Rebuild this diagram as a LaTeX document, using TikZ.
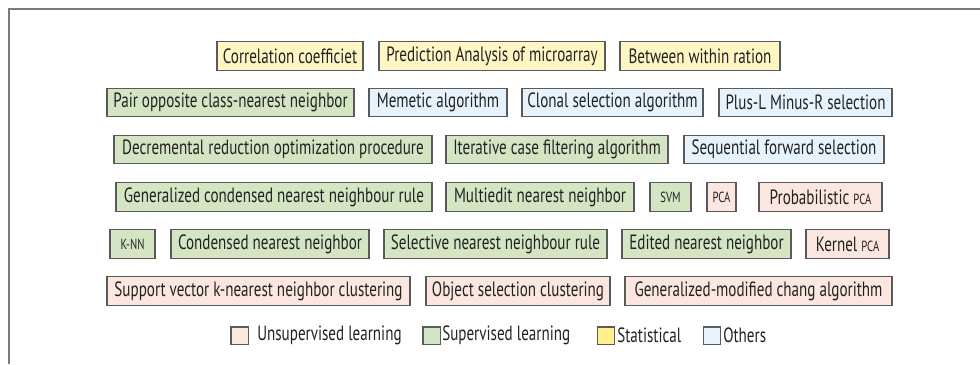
\documentclass[tikz,border=0pt]{standalone}
\usepackage{fontspec}
\setmainfont{PT Sans}[FakeStretch=0.73]
\definecolor{ylw}{HTML}{FFF6C4}
\definecolor{ylwleg}{HTML}{FFF08C}
\definecolor{grn}{HTML}{D4E5C4}
\definecolor{blu}{HTML}{E6F3FC}
\definecolor{pnk}{HTML}{FBE7DF}
\definecolor{bord}{HTML}{5A5A5A}
\definecolor{txt}{HTML}{222222}
\definecolor{frm}{HTML}{7A7A7A}
\newcommand\sm[1]{{\fontsize{11}{12}\selectfont #1}}
\newcommand\mkbox[6]{\node[box,fill=#5,minimum width={(#3-#2)*0.75pt}] (#1) at ({(#2+#3)/2},#4) {#6};}
\tikzset{
  box/.style={draw=bord, line width=0.8pt, inner sep=0pt, minimum height=21.5pt, text=txt, font=\fontsize{15.5}{17}\selectfont},
  swatch/.style={draw=bord, line width=0.8pt, inner sep=0pt, minimum width=12.8pt, minimum height=12.8pt},
  legtext/.style={anchor=west, inner sep=0pt, text=txt, font=\fontsize{15.5}{17}\selectfont}
}
\begin{document}
\begin{tikzpicture}[x=0.75pt,y=-0.75pt]
\useasboundingbox (0,0) rectangle (980,364);
\fill[white] (0,0) rectangle (980,364);
\coordinate (fbl) at (9,364);
\coordinate (ftl) at (9,9);
\coordinate (ftr) at (980,9);
\draw[frm, line width=1.3pt] (fbl) -- (ftl) -- (ftr);
% row 1
\mkbox{r1a}{217}{363}{56}{ylw}{Correlation coefficiet}
\mkbox{r1b}{379}{605}{56}{ylw}{Prediction Analysis of microarray}
\mkbox{r1c}{620}{780}{56}{ylw}{Between within ration}
% row 2
\mkbox{r2a}{107}{354}{102.5}{grn}{Pair opposite class-nearest neighbor}
\mkbox{r2b}{369}{507}{102.5}{blu}{Memetic algorithm}
\mkbox{r2c}{522}{703}{102.5}{blu}{Clonal selection algorithm}
\mkbox{r2d}{719}{892}{102.5}{blu}{Plus-L Minus-R selection}
% row 3
\mkbox{r3a}{114}{432}{149.5}{grn}{Decremental reduction optimization procedure}
\mkbox{r3b}{446}{668}{149.5}{grn}{Iterative case filtering algorithm}
\mkbox{r3c}{684}{884}{149.5}{blu}{Sequential forward selection}
% row 4
\mkbox{r4a}{116}{432}{197}{grn}{Generalized condensed nearest neighbour rule}
\mkbox{r4b}{446}{634}{197}{grn}{Multiedit nearest neighbor}
\mkbox{r4c}{650}{691}{197}{grn}{\sm{SVM}}
\mkbox{r4d}{707}{736}{197}{pnk}{\sm{PCA}}
\mkbox{r4e}{759}{882}{197}{pnk}{Probabilistic \sm{PCA}}
% row 5
\mkbox{r5a}{110}{155}{244}{grn}{\sm{K-NN}}
\mkbox{r5b}{171}{369}{244}{grn}{Condensed nearest neighbor}
\mkbox{r5c}{384}{607}{244}{grn}{Selective nearest neighbour rule}
\mkbox{r5d}{622}{791}{244}{grn}{Edited nearest neighbor}
\mkbox{r5e}{806}{889}{244}{pnk}{Kernel \sm{PCA}}
% row 6
\mkbox{r6a}{107}{410}{291}{pnk}{Support vector k-nearest neighbor clustering}
\mkbox{r6b}{426}{610}{291}{pnk}{Object selection clustering}
\mkbox{r6c}{625}{892}{291}{pnk}{Generalized-modified chang algorithm}
% legend
\node[swatch, fill=pnk] (l1) at (239.5,335.5) {};
\node[legtext] (t1) at (257,335.5) {Unsupervised learning};
\node[swatch, fill=grn] (l2) at (431.5,335.5) {};
\node[legtext] (t2) at (442,335.5) {Supervised learning};
\node[swatch, fill=ylwleg] (l3) at (606,335.5) {};
\node[legtext] (t3) at (617,335.5) {Statistical};
\node[swatch, fill=blu] (l4) at (712,335.5) {};
\node[legtext] (t4) at (723,335.5) {Others};
\end{tikzpicture}
\end{document}
